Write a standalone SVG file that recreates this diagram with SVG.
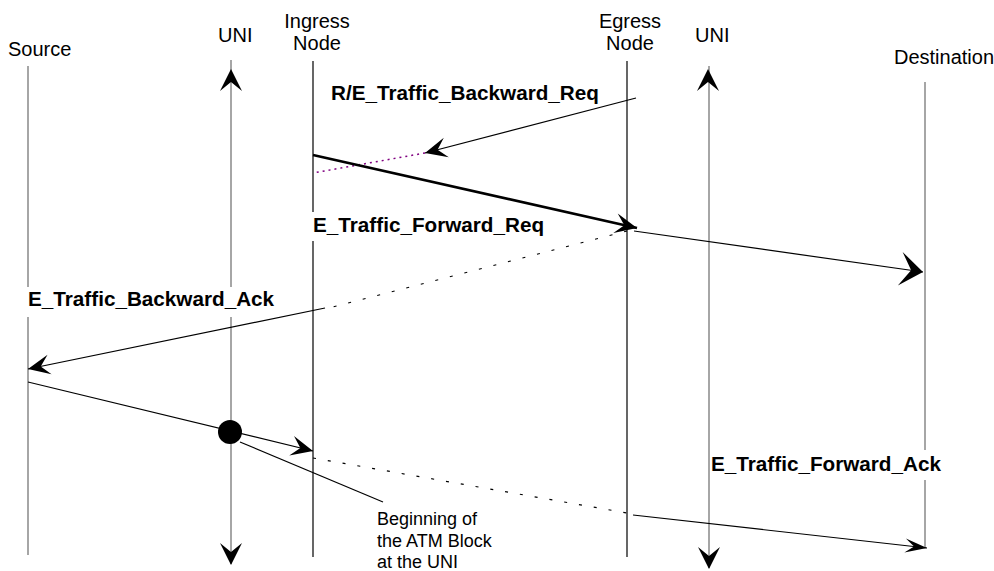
<svg xmlns="http://www.w3.org/2000/svg" xmlns:xlink="http://www.w3.org/1999/xlink" width="994" height="571" viewBox="0 0 994 571">
  <style>
    .title { font-family: "Liberation Sans", Arial, sans-serif; font-size: 20px; fill: #000; }
    .msg { font-family: "Liberation Sans", Arial, sans-serif; font-size: 20.7px; font-weight: bold; fill: #000; }
    .note { font-family: "Liberation Sans", Arial, sans-serif; font-size: 18px; fill: #000; }
    .life-grey { stroke: #808080; stroke-width: 1.4; fill: none; }
    .life-black { stroke: #000; stroke-width: 1.2; fill: none; }
    .conn { stroke: #000; stroke-width: 1.2; fill: none; }
    .thick { stroke: #000; stroke-width: 2.6; fill: none; }
    .dash { stroke: #000; stroke-width: 1.2; fill: none; stroke-dasharray: 3 12; }
    .dot-purple { stroke: #800080; stroke-width: 1.5; fill: none; stroke-dasharray: 2 4; }
    .bg { fill: #fff; }
  </style>
  <defs>
    <marker id="ahMed" markerUnits="userSpaceOnUse" viewBox="-24 -12 26 24" refX="0" refY="0" markerWidth="26" markerHeight="24" orient="auto">
      <path d="M0,0 L-22,-10 L-13,0 L-22,10 Z" fill="#000"/>
    </marker>
    <marker id="ahBig" markerUnits="userSpaceOnUse" viewBox="-24 -19 26 38" refX="0" refY="0" markerWidth="26" markerHeight="38" orient="auto">
      <path d="M0,0 L-23,-17 L-12,0 L-23,17 Z" fill="#000"/>
    </marker>
    <marker id="ahSmall" markerUnits="userSpaceOnUse" viewBox="-24 -9 26 18" refX="0" refY="0" markerWidth="26" markerHeight="18" orient="auto">
      <path d="M0,0 L-22,-7 L-13,0 L-22,7 Z" fill="#000"/>
    </marker>
    <path id="ahUni" d="M0,0 L-22,-11 L-13,0 L-22,11 Z" fill="#000"/>
  </defs>

  <!-- lifelines with their headers -->
  <g id="source">
    <text class="title" x="8" y="56">Source</text>
    <line class="life-grey" x1="28" y1="66" x2="28" y2="555"/>
  </g>
  <g id="uni-left">
    <text class="title" x="218" y="42">UNI</text>
    <line class="life-grey" x1="231" y1="60" x2="231" y2="564"/>
    <use xlink:href="#ahUni" transform="translate(231,69) rotate(-90)"/>
    <use xlink:href="#ahUni" transform="translate(231,565) rotate(90)"/>
  </g>
  <g id="ingress-node">
    <text class="title" x="317" y="28" text-anchor="middle">Ingress</text>
    <text class="title" x="317" y="50" text-anchor="middle">Node</text>
    <line class="life-black" x1="313" y1="61" x2="313" y2="557"/>
  </g>
  <g id="egress-node">
    <text class="title" x="630" y="28" text-anchor="middle">Egress</text>
    <text class="title" x="630" y="50" text-anchor="middle">Node</text>
    <line class="life-black" x1="627" y1="61" x2="627" y2="557"/>
  </g>
  <g id="uni-right">
    <text class="title" x="695" y="42">UNI</text>
    <line class="life-grey" x1="709" y1="66" x2="709" y2="568"/>
    <use xlink:href="#ahUni" transform="translate(708,69) rotate(-90)"/>
    <use xlink:href="#ahUni" transform="translate(709,569) rotate(90)"/>
  </g>
  <g id="destination">
    <text class="title" x="894" y="64">Destination</text>
    <line class="life-grey" x1="925" y1="82" x2="925" y2="548"/>
  </g>

  <!-- message flows -->
  <g id="connectors">
    <!-- R/E_Traffic_Backward_Req -->
    <line class="conn" x1="636" y1="98" x2="425" y2="153" marker-end="url(#ahMed)"/>
    <line class="dot-purple" x1="425" y1="153" x2="313" y2="173"/>

    <!-- E_Traffic_Forward_Req -->
    <line class="thick" x1="313" y1="155" x2="637" y2="228" marker-end="url(#ahMed)"/>
    <line class="conn" x1="634" y1="231" x2="923" y2="272" marker-end="url(#ahBig)"/>

    <!-- E_Traffic_Backward_Ack -->
    <line class="dash" x1="627" y1="231" x2="325" y2="309"/>
    <line class="conn" x1="325" y1="308" x2="28" y2="369" marker-end="url(#ahMed)"/>

    <!-- E_Traffic_Forward_Ack -->
    <line class="conn" x1="28" y1="382" x2="313" y2="451" marker-end="url(#ahMed)"/>
    <line class="dash" x1="313" y1="458" x2="627" y2="513"/>
    <line class="conn" x1="633" y1="515" x2="927" y2="548" marker-end="url(#ahSmall)"/>

    <!-- pointer to the ATM block start -->
    <line class="conn" x1="240" y1="442" x2="383" y2="502"/>
  </g>

  <!-- message labels -->
  <g id="label-backward-req">
    <text class="msg" x="331" y="100">R/E_Traffic_Backward_Req</text>
  </g>
  <g id="label-forward-req">
    <rect class="bg" x="311" y="212" width="238" height="29"/>
    <text class="msg" x="313" y="232">E_Traffic_Forward_Req</text>
  </g>
  <g id="label-backward-ack">
    <rect class="bg" x="26" y="287" width="253" height="30"/>
    <text class="msg" x="28" y="306">E_Traffic_Backward_Ack</text>
  </g>
  <g id="label-forward-ack">
    <rect class="bg" x="711" y="450" width="235" height="30"/>
    <text class="msg" x="711" y="471">E_Traffic_Forward_Ack</text>
  </g>

  <!-- ATM block marker -->
  <g id="atm-block">
    <circle cx="230" cy="432" r="12" fill="#000"/>
    <text class="note" x="377" y="525">Beginning of</text>
    <text class="note" x="377" y="547">the ATM Block</text>
    <text class="note" x="377" y="568">at the UNI</text>
  </g>
</svg>
